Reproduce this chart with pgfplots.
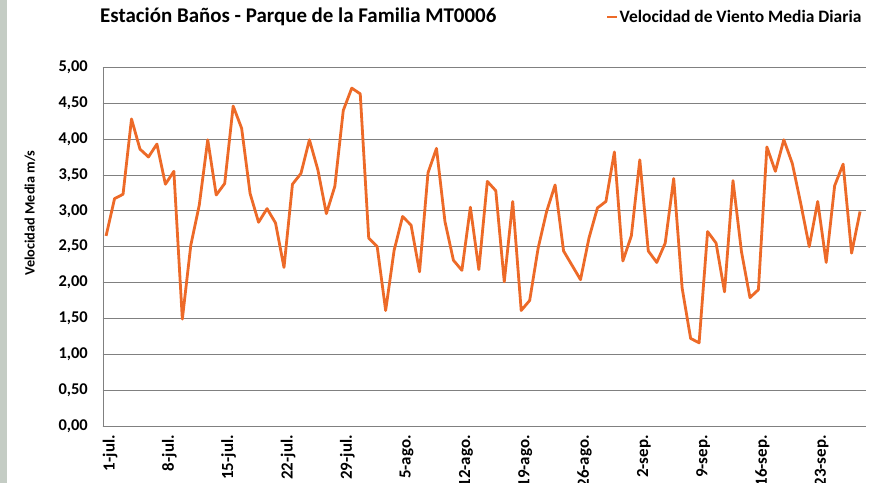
\documentclass[border=0pt]{standalone}
\usepackage{fontspec}
\setmainfont{Carlito}
\usepackage{pgfplots}
\pgfplotsset{compat=1.18}
\definecolor{vline}{RGB}{237,106,40}
\definecolor{gridc}{RGB}{128,128,128}
\definecolor{strip}{RGB}{196,204,196}
\begin{document}
\begin{tikzpicture}
\clip (0,0) rectangle (881bp,483bp);
\fill[white] (0,0) rectangle (881bp,483bp);
\fill[strip] (0,0) rectangle (7bp,483bp);
\begin{axis}[
  at={(102.7bp,57bp)}, anchor=south west,
  width=763.3bp, height=358.7bp, scale only axis,
  xmin=-0.4, xmax=89.7, ymin=0, ymax=5,
  axis x line=bottom, axis y line=left,
  axis line style={gridc, -},
  ytick={0,0.5,...,5},
  ymajorgrids, grid style={gridc, line width=0.8bp},
  major tick length=0pt,
  xtick={0,7,...,84},
  xticklabels={1-jul.,8-jul.,15-jul.,22-jul.,29-jul.,5-ago.,12-ago.,19-ago.,26-ago.,2-sep.,9-sep.,16-sep.,23-sep.},
  % shifts below act in the rotated frame: xshift moves down, yshift moves sideways
  xticklabel style={rotate=90, anchor=east, font=\fontsize{17}{17}\selectfont\bfseries, inner sep=0pt, xshift=-9bp, yshift=-4bp},
  yticklabel style={font=\fontsize{16.5}{16.5}\selectfont\bfseries, inner sep=0pt, xshift=-14.7bp},
  /pgf/number format/.cd, fixed, fixed zerofill, precision=2, use comma, assume math mode=true,
  /pgfplots/.cd,
  legend style={at={(0.659,1.14)}, anchor=west, draw=none, fill=none, font=\fontsize{17.5}{17.5}\selectfont\bfseries, inner sep=0pt, nodes={inner sep=1bp}},
  legend image code/.code={\draw[#1, line width=2.8bp] (0bp,0bp) -- (10bp,0bp);},
  clip=false,
]
\addplot[vline, line width=2.8bp, line join=round] table {
x y
0 2.65
1 3.17
2 3.23
3 4.28
4 3.86
5 3.75
6 3.93
7 3.37
8 3.55
9 1.49
10 2.52
11 3.08
12 3.99
13 3.22
14 3.38
15 4.46
16 4.15
17 3.24
18 2.84
19 3.03
20 2.83
21 2.21
22 3.37
23 3.52
24 3.99
25 3.57
26 2.96
27 3.34
28 4.40
29 4.71
30 4.63
31 2.62
32 2.50
33 1.61
34 2.45
35 2.92
36 2.80
37 2.15
38 3.53
39 3.87
40 2.85
41 2.31
42 2.17
43 3.05
44 2.18
45 3.41
46 3.28
47 2.01
48 3.13
49 1.61
50 1.75
51 2.48
52 2.99
53 3.36
54 2.44
55 2.24
56 2.04
57 2.62
58 3.04
59 3.13
60 3.82
61 2.30
62 2.65
63 3.71
64 2.44
65 2.28
66 2.55
67 3.45
68 1.92
69 1.22
70 1.16
71 2.71
72 2.55
73 1.87
74 3.42
75 2.43
76 1.79
77 1.90
78 3.89
79 3.55
80 3.99
81 3.66
82 3.10
83 2.50
84 3.13
85 2.28
86 3.35
87 3.65
88 2.41
89 2.99
};
\legend{Velocidad de Viento Media Diaria}
\end{axis}
\node[anchor=west, font=\fontsize{21}{21}\selectfont\bfseries, inner sep=0pt] at (100bp,466bp) {Estación Baños - Parque de la Familia MT0006};
\node[rotate=90, font=\fontsize{14.3}{14.3}\selectfont\bfseries, inner sep=0pt] at (30bp,270bp) {Velocidad Media m/s};
\end{tikzpicture}
\end{document}
